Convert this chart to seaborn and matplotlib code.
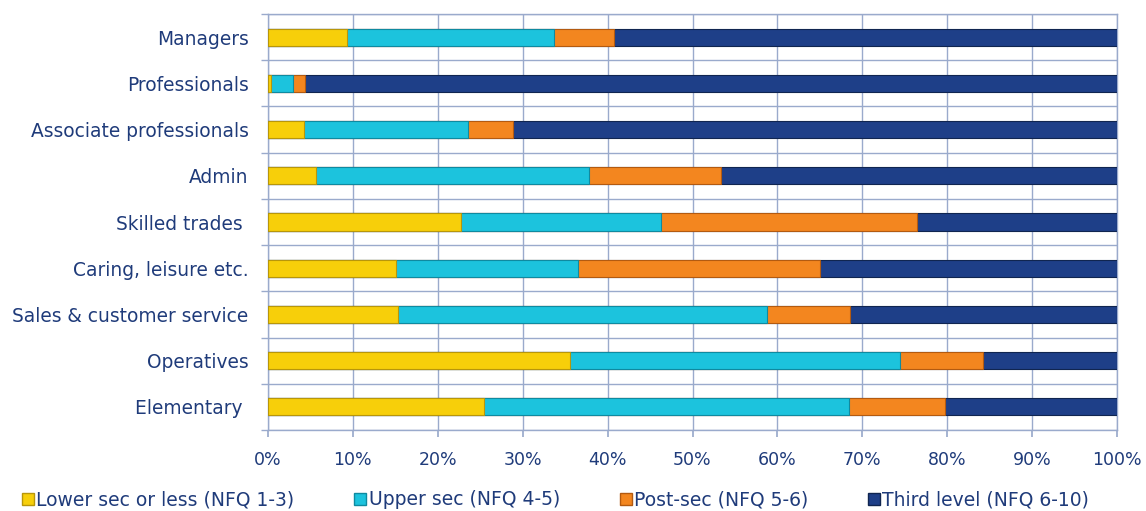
import matplotlib
matplotlib.use("Agg")
import matplotlib.pyplot as plt
import seaborn as sns
import pandas as pd
import numpy as np
from matplotlib.lines import Line2D

categories = ["Managers", "Professionals", "Associate professionals", "Admin",
              "Skilled trades ", "Caring, leisure etc.", "Sales & customer service",
              "Operatives", "Elementary "]
series_names = ["Lower sec or less (NFQ 1-3)", "Upper sec (NFQ 4-5)",
                "Post-sec (NFQ 5-6)", "Third level (NFQ 6-10)"]
lower_sec = [9.3, 0.4, 4.2, 5.6, 22.7, 15.1, 15.3, 35.6, 25.4]
upper_sec = [24.4, 2.5, 19.3, 32.2, 23.6, 21.4, 43.5, 38.8, 43.0]
post_sec = [7.0, 1.5, 5.3, 15.5, 30.2, 28.5, 9.8, 9.8, 11.3]
third_level = [59.3, 95.6, 71.2, 46.7, 23.5, 35.0, 31.4, 15.8, 20.3]
x_ticks = [0, 10, 20, 30, 40, 50, 60, 70, 80, 90, 100]

colors = ["#F7CF0A", "#1CC3DD", "#F3861F", "#1E3F88"]
edge_colors = ["#B8960A", "#0F8AA0", "#B35A10", "#102550"]
text_color = "#1F3B7A"
grid_color = "#9AAACC"

sns.set_theme(style="white")
plt.rcParams['font.family'] = ['DejaVu Sans']

values = np.array([lower_sec, upper_sec, post_sec, third_level])
cum = np.cumsum(values, axis=0)
cum = cum / cum[-1:] * 100

fig = plt.figure(figsize=(11.46, 5.11), dpi=100)
ax = fig.add_axes([268 / 1146, 1 - 430 / 511, (1117 - 268) / 1146, (430 - 14) / 511])

for i in range(3, -1, -1):
    df = pd.DataFrame({"cat": categories, "val": cum[i]})
    sns.barplot(data=df, x="val", y="cat", orient="h", color=colors[i],
                width=0.37, edgecolor=edge_colors[i], linewidth=0.8,
                saturation=1, ax=ax, zorder=3)

ax.set_xlim(0, 100)
ax.set_ylim(len(categories) - 0.5, -0.5)
ax.set_xlabel("")
ax.set_ylabel("")
ax.set_xticks(x_ticks)
ax.set_xticklabels([f"{t}%" for t in x_ticks])
ax.set_yticks(np.arange(len(categories)))
ax.set_yticklabels(categories)
ax.set_yticks(np.arange(-0.5, len(categories), 1), minor=True)
ax.grid(True, axis="x", color=grid_color, linewidth=1.0, zorder=0)
ax.grid(True, axis="y", which="minor", color=grid_color, linewidth=1.0, zorder=0)
ax.grid(False, axis="y", which="major")
ax.set_axisbelow(True)
for s in ax.spines.values():
    s.set_color(grid_color)
    s.set_linewidth(1.0)
ax.tick_params(axis="y", which="major", length=0, pad=14, labelsize=13.4, labelcolor=text_color)
ax.tick_params(axis="y", which="minor", length=5, color=grid_color, left=True)
ax.tick_params(axis="x", length=5, color=grid_color, bottom=True, labelsize=12.5,
               labelcolor=text_color, pad=10)

handles = [Line2D([0], [0], marker="s", linestyle="", markersize=8,
                  markerfacecolor=colors[i], markeredgecolor=edge_colors[i])
           for i in range(4)]
leg = fig.legend(handles, series_names, loc="lower center", ncol=4,
                 bbox_to_anchor=(0.485, -0.03), frameon=False, fontsize=13.5,
                 handlelength=0.6, handletextpad=0.15, columnspacing=3.2)
for t in leg.get_texts():
    t.set_color(text_color)

fig.savefig("out.png", dpi=100)
